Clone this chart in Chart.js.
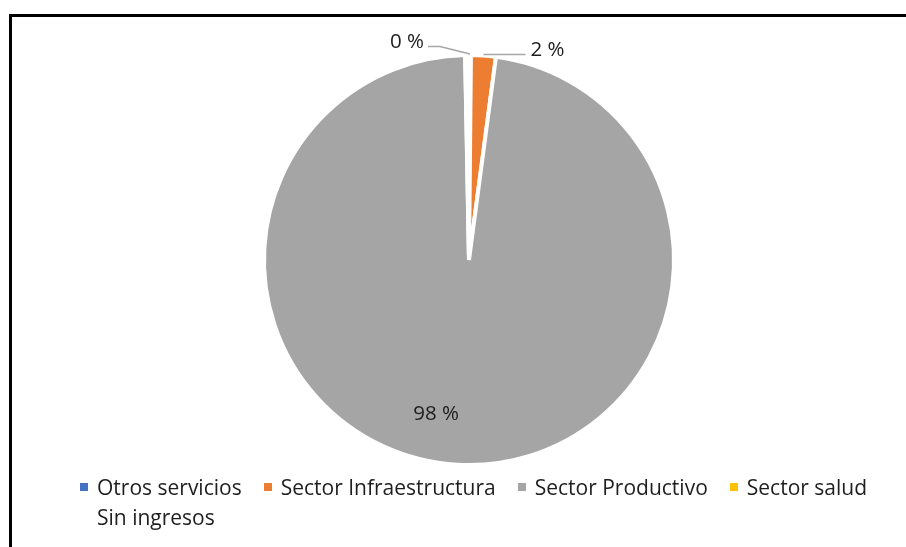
<!DOCTYPE html>
<html>
<head>
<meta charset="utf-8">
<script src="https://cdn.jsdelivr.net/npm/chart.js@4/dist/chart.umd.min.js"></script>
<style>
  html, body { margin: 0; padding: 0; background: #fff; }
  body { width: 906px; height: 547px; position: relative; overflow: hidden; font-family: "Open Sans", sans-serif; }
  #frame { position: absolute; left: 9px; top: 14px; right: 0; bottom: 0; border-top: 3px solid #000; border-left: 3px solid #000; }
  #chart { position: absolute; left: 0; top: 0; }
  #legend { position: absolute; left: 80px; top: 472px; width: 822px; display: flex; flex-wrap: wrap; font-size: 21px; line-height: 30px; color: #1e1e1e; }
  .item { display: flex; align-items: center; margin-right: 22px; white-space: nowrap; }
  .box { width: 8px; height: 8px; margin-right: 9px; }
</style>
</head>
<body>
<div id="frame"></div>
<canvas id="chart" width="906" height="547"></canvas>
<div id="legend"></div>
<script>
// Income sectors and their share (percent)
const categories = ['Otros servicios', 'Sector Infraestructura', 'Sector Productivo', 'Sector salud', 'Sin ingresos'];
const shares = [0.15, 1.95, 97.6, 0.15, 0.15];
const sliceColors = ['#4472C4', '#ED7D31', '#A5A5A5', '#FFC000', '#FFFFFF'];
const labelledSlices = [true, true, true, false, false];

// Percentage labels, either inside the slice or outside with a leader line
const sliceLabels = {
  id: 'sliceLabels',
  afterDatasetsDraw(chart, args, opts) {
    const ctx = chart.ctx;
    const meta = chart.getDatasetMeta(0);
    const data = chart.data.datasets[0].data;
    const total = data.reduce((a, b) => a + b, 0);
    ctx.save();
    ctx.font = opts.font;
    ctx.fillStyle = opts.color;
    meta.data.forEach((arc, i) => {
      if (!labelledSlices[i]) return;
      const p = opts.placements[i];
      if (!p) return;
      const text = Math.round(data[i] / total * 100) + ' %';
      const mid = (arc.startAngle + arc.endAngle) / 2;
      if (p.type === 'inside') {
        const a = mid + p.shift * Math.PI / 180;
        const r = arc.outerRadius * p.fraction;
        ctx.textAlign = 'center';
        ctx.textBaseline = 'middle';
        ctx.fillText(text, arc.x + r * Math.cos(a), arc.y + r * Math.sin(a));
      } else {
        const r = arc.outerRadius + 1;
        const ax = arc.x + r * Math.cos(mid);
        const ay = arc.y + r * Math.sin(mid);
        ctx.strokeStyle = opts.lineColor;
        ctx.lineWidth = opts.lineWidth;
        ctx.beginPath();
        ctx.moveTo(ax, ay);
        if (p.elbow) ctx.lineTo(ax + p.elbow[0], ay + p.elbow[1]);
        const ex = ax + p.end[0], ey = ay + p.end[1];
        ctx.lineTo(ex, ey);
        ctx.stroke();
        ctx.textBaseline = 'alphabetic';
        if (p.align === 'right') {
          ctx.textAlign = 'right';
          ctx.fillText(text, ex - 4, ey + 1);
        } else {
          ctx.textAlign = 'left';
          ctx.fillText(text, ex + 5, ey + 1);
        }
      }
    });
    ctx.restore();
  }
};

const chart = new Chart(document.getElementById('chart'), {
  type: 'pie',
  data: {
    labels: categories,
    datasets: [{
      data: shares,
      backgroundColor: sliceColors,
      borderColor: '#FFFFFF',
      borderWidth: 4,
      radius: 205
    }]
  },
  options: {
    responsive: false,
    animation: false,
    events: [],
    layout: { padding: { top: 50, bottom: 77, left: 250, right: 218 } },
    plugins: {
      legend: { display: false },
      tooltip: { enabled: false },
      sliceLabels: {
        font: '20.5px "Open Sans", sans-serif',
        color: '#1e1e1e',
        lineColor: '#A6A6A6',
        lineWidth: 1.5,
        placements: {
          0: { type: 'leader', elbow: [-30, -7.5], end: [-42, -7.5], align: 'right' },
          1: { type: 'leader', end: [42, 0], align: 'left' },
          2: { type: 'inside', fraction: 0.77, shift: 8.75 }
        }
      }
    }
  },
  plugins: [sliceLabels]
});

// Legend built from the chart's own labels and colours
const legend = document.getElementById('legend');
chart.data.labels.forEach((name, i) => {
  const item = document.createElement('div');
  item.className = 'item';
  const box = document.createElement('span');
  box.className = 'box';
  box.style.background = chart.data.datasets[0].backgroundColor[i];
  const label = document.createElement('span');
  label.textContent = name;
  item.appendChild(box);
  item.appendChild(label);
  legend.appendChild(item);
});
</script>
</body>
</html>
